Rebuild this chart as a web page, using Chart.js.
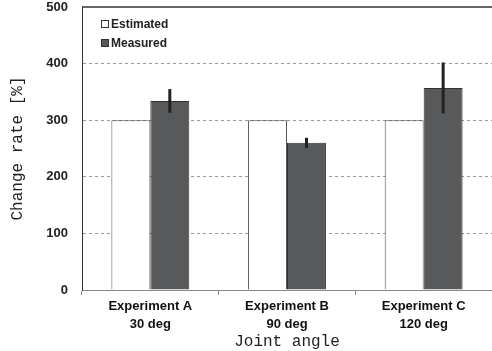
<!DOCTYPE html>
<html>
<head>
<meta charset="utf-8">
<script src="https://cdn.jsdelivr.net/npm/chart.js@4/dist/chart.umd.min.js"></script>
<style>
  body { margin: 0; background: #fff; }
</style>
</head>
<body>
<canvas id="rateChart" width="492" height="351"></canvas>
<script>
// chart data
const categories = [["Experiment A", "30 deg"], ["Experiment B", "90 deg"], ["Experiment C", "120 deg"]];
const estimated = [300, 300, 300];
const measured = [334, 260, 357];
const measuredErr = [21, 9, 45];
const yTicks = [0, 100, 200, 300, 400, 500];

// error bars on the measured series
const errorBars = {
  id: "errorBars",
  afterDatasetsDraw(chart) {
    const ctx = chart.ctx;
    const y = chart.scales.y;
    const meta = chart.getDatasetMeta(1);
    ctx.save();
    ctx.strokeStyle = "#222";
    ctx.lineWidth = 3;
    meta.data.forEach((bar, i) => {
      ctx.beginPath();
      ctx.moveTo(bar.x, y.getPixelForValue(measured[i] + measuredErr[i]));
      ctx.lineTo(bar.x, y.getPixelForValue(measured[i] - measuredErr[i]));
      ctx.stroke();
    });
    ctx.restore();
  }
};

// top frame line + legend inside the plot
const frameAndLegend = {
  id: "frameAndLegend",
  afterDraw(chart) {
    const ctx = chart.ctx;
    const area = chart.chartArea;
    ctx.save();
    ctx.strokeStyle = "#333";
    ctx.lineWidth = 1.5;
    ctx.beginPath();
    ctx.moveTo(area.left, area.top);
    ctx.lineTo(area.right, area.top);
    ctx.stroke();

    const items = [
      { label: "Estimated", fill: "#fff", y: 24 },
      { label: "Measured", fill: "#58595b", y: 43 }
    ];
    ctx.font = "bold 12px 'Liberation Sans', Arial, sans-serif";
    ctx.textBaseline = "middle";
    ctx.lineWidth = 1;
    items.forEach(it => {
      ctx.fillStyle = it.fill;
      ctx.fillRect(101.5, it.y - 3.5, 7, 7);
      ctx.strokeStyle = "#333";
      ctx.strokeRect(101.5, it.y - 3.5, 7, 7);
      ctx.fillStyle = "#222";
      ctx.fillText(it.label, 111, it.y + 1);
    });
    ctx.restore();
  }
};

new Chart(document.getElementById("rateChart"), {
  type: "bar",
  data: {
    labels: categories,
    datasets: [
      {
        label: "Estimated",
        data: estimated,
        backgroundColor: "#ffffff",
        borderColor: "#555",
        borderWidth: 1,
        categoryPercentage: 0.57,
        barPercentage: 1
      },
      {
        label: "Measured",
        data: measured,
        backgroundColor: "#58595b",
        borderColor: "#333",
        borderWidth: 1,
        categoryPercentage: 0.57,
        barPercentage: 1
      }
    ]
  },
  options: {
    responsive: false,
    animation: false,
    layout: { padding: 0 },
    plugins: {
      legend: { display: false },
      tooltip: { enabled: false }
    },
    scales: {
      x: {
        afterFit(scale) { scale.height = 61; },
        grid: {
          display: true,
          drawOnChartArea: false,
          drawTicks: true,
          tickLength: 5,
          color: "#888",
          offset: true
        },
        border: { display: true, color: "#888", width: 1 },
        ticks: {
          color: "#111",
          padding: 3,
          font: { family: "'Liberation Sans', Arial, sans-serif", size: 13, weight: "bold", lineHeight: 1.35 }
        },
        title: {
          display: true,
          text: "Joint angle",
          color: "#222",
          padding: { top: 2, bottom: 0 },
          font: { family: "'Liberation Mono', 'DejaVu Sans Mono', monospace", size: 16 }
        }
      },
      y: {
        min: 0,
        max: 500,
        afterFit(scale) { scale.width = 82; scale.paddingTop = 7; },
        afterBuildTicks(scale) { scale.ticks = yTicks.map(v => ({ value: v })); },
        grid: {
          drawTicks: false,
          color: c => (c.tick && (c.tick.value === 0 || c.tick.value === 500)) ? "rgba(0,0,0,0)" : "#999",
          lineWidth: 1
        },
        border: { display: true, color: "#333", width: 1, dash: [3, 3] },
        ticks: {
          color: "#222",
          padding: 14,
          font: { family: "'Liberation Sans', Arial, sans-serif", size: 13, weight: "bold" }
        },
        title: {
          display: true,
          text: "Change rate [%]",
          color: "#222",
          padding: { top: 8, bottom: 0 },
          font: { family: "'Liberation Mono', 'DejaVu Sans Mono', monospace", size: 16 }
        }
      }
    }
  },
  plugins: [errorBars, frameAndLegend]
});
</script>
</body>
</html>
